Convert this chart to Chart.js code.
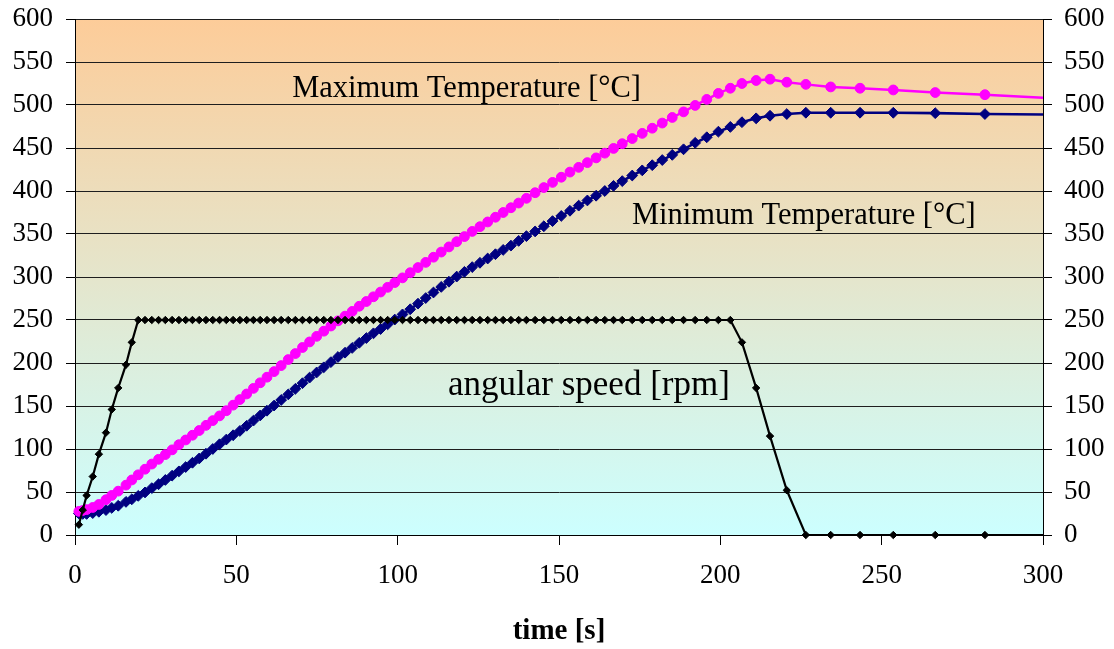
<!DOCTYPE html>
<html>
<head>
<meta charset="utf-8">
<script src="https://cdn.jsdelivr.net/npm/chart.js@4.4.1/dist/chart.umd.min.js"></script>
<style>
  html, body { margin: 0; padding: 0; background: #ffffff; }
  #wrap { width: 1114px; height: 649px; position: relative; }
</style>
</head>
<body>
<div id="wrap"><canvas id="c" width="1114" height="649"></canvas></div>
<script>
// ---------------- DATA ----------------
const timeSeconds = [
  1.2, 2.4, 3.6, 5.5, 7.4, 9.6, 11.4, 13.4, 15.8, 17.6, 19.6,
  21.7, 23.8, 25.9, 28.0, 30.1, 32.2, 34.3, 36.4, 38.5, 40.6, 42.7, 44.8, 46.9, 49.0, 51.1, 53.2, 55.3, 57.4, 59.5,
  61.7, 63.9, 66.1, 68.3, 70.5, 72.7, 74.9, 77.1, 79.3, 81.5, 83.7, 85.9, 88.1, 90.3, 92.5, 94.7, 96.9, 99.1,
  101.5, 103.9, 106.3, 108.7, 111.1, 113.5, 115.9, 118.3, 120.7, 123.1, 125.5, 127.9, 130.3, 132.7, 135.1, 137.5, 139.9,
  142.6, 145.3, 148.0, 150.7, 153.4, 156.1, 158.8, 161.5, 164.2, 166.9, 169.6,
  172.7, 175.8, 178.9, 182.0, 185.1, 188.6, 192.2, 195.8, 199.4, 203.1,
  206.7, 211.1, 215.4, 220.6, 226.5, 234.2, 243.3, 253.6, 266.6, 282.0, 300.0
];

const maxTemperature = [
  27.5, 28.5, 29.5, 32, 35.5, 41, 46, 51, 58, 64, 70,
  76.5, 82.5, 88, 93.5, 99, 105, 110.5, 116, 121.5, 127.5, 133, 138.5, 144.5, 151, 157.5, 164, 170.5, 177, 183.5,
  190, 197, 204, 211, 218, 224.5, 231, 237, 243, 249, 254.5, 260, 266, 271.5, 277, 282.5, 288, 293.5,
  299, 305, 311, 317, 323, 329, 335, 341, 347, 353, 358.5, 364, 369.5, 375, 380.5, 386, 391.5,
  398, 404, 410, 416, 422, 427.5, 433, 438.5, 444, 449.5, 455,
  461, 467, 473, 479, 485.5, 492, 499.5, 506.5, 513.5, 519.5,
  525, 528.5, 530, 526.5, 524, 521, 519.5, 517.5, 514.5, 512, 508.5
];

const minTemperature = [
  25, 24.5, 24.5, 25.5, 27, 29, 31.5, 34, 38.5, 41.5, 45.5,
  49.5, 54.5, 59, 64, 69, 74, 79, 84, 89, 94.5, 100, 105.5, 111, 116, 121, 127, 133, 139, 144.5,
  150.5, 157, 163.5, 170, 176.5, 183, 189, 195, 201, 207, 212, 217.5, 223.5, 229, 234.5, 239.5, 245, 250.5,
  256.5, 262.5, 269, 275.5, 282, 288.5, 294.5, 300.5, 306, 311.5, 316.5, 321.5, 326.5, 331.5, 336.5, 342, 347.5,
  353, 359, 365, 371, 377, 383, 389, 394.5, 400, 406, 411.5,
  418, 424, 430, 436, 442, 448.5, 456, 462.5, 469, 474.5,
  480, 484.5, 487.5, 489.5, 491, 491, 491, 491, 490.5, 489.5, 489
];

const angularSpeed = [
  12, 29, 46, 68, 94, 119, 146, 171, 198, 224, 250,
  250, 250, 250, 250, 250, 250, 250, 250, 250, 250, 250, 250, 250, 250, 250, 250, 250, 250, 250,
  250, 250, 250, 250, 250, 250, 250, 250, 250, 250, 250, 250, 250, 250, 250, 250, 250, 250,
  250, 250, 250, 250, 250, 250, 250, 250, 250, 250, 250, 250, 250, 250, 250, 250, 250,
  250, 250, 250, 250, 250, 250, 250, 250, 250, 250, 250,
  250, 250, 250, 250, 250, 250, 250, 250, 250, 250,
  224, 171, 115, 52, 0, 0, 0, 0, 0, 0, 0
];

const seriesLabels = ['angular speed [rpm]', 'Maximum Temperature [°C]', 'Minimum Temperature [°C]'];
const xTickValues = [0, 50, 100, 150, 200, 250, 300];
const yTickValues = [0, 50, 100, 150, 200, 250, 300, 350, 400, 450, 500, 550, 600];
const xTitle = 'time [s]';

// text annotations anchored in data coordinates (time, value at text baseline)
const annotationText = [seriesLabels[1], seriesLabels[2], seriesLabels[0]];
const annotationTime = [67.3, 172.6, 115.6];
const annotationValue = [509, 362, 162.5];
const annotationSize = [30.5, 30.5, 35];

// ---------------- CHART ----------------
const FONT = '"Liberation Serif", "Times New Roman", serif';
const toPoints = (ys) => timeSeconds.map((t, i) => ({ x: t, y: ys[i] }));
const lastIdx = timeSeconds.length - 1;
const radiusFn = (r) => (ctx) => (ctx.dataIndex === lastIdx ? 0 : r);

const bgPlugin = {
  id: 'bg',
  beforeDraw(chart) {
    const { ctx, chartArea: a } = chart;
    ctx.save();
    ctx.fillStyle = '#ffffff';
    ctx.fillRect(0, 0, chart.width, chart.height);
    const g = ctx.createLinearGradient(0, a.top, 0, a.bottom);
    g.addColorStop(0, '#FDCC99');
    g.addColorStop(1, '#CCFFFF');
    ctx.fillStyle = g;
    ctx.fillRect(a.left, a.top, a.right - a.left, a.bottom - a.top);
    ctx.restore();
  }
};

const textPlugin = {
  id: 'seriesText',
  beforeDatasetsDraw(chart) {
    const { ctx, scales } = chart;
    ctx.save();
    ctx.fillStyle = '#000000';
    ctx.textAlign = 'left';
    ctx.textBaseline = 'alphabetic';
    annotationText.forEach((txt, i) => {
      ctx.font = annotationSize[i] + 'px ' + FONT;
      ctx.fillText(txt, scales.x.getPixelForValue(annotationTime[i]), scales.y.getPixelForValue(annotationValue[i]));
    });
    ctx.restore();
  }
};

const tickFont = { family: FONT, size: 27 };
const noPad = (s) => { s.paddingTop = 0; s.paddingBottom = 0; s.paddingLeft = 0; s.paddingRight = 0; };

new Chart(document.getElementById('c'), {
  type: 'line',
  data: {
    datasets: [
      {
        label: seriesLabels[0],
        data: toPoints(angularSpeed),
        borderColor: '#000000',
        backgroundColor: '#000000',
        borderWidth: 2.2,
        pointStyle: 'rectRot',
        pointRadius: radiusFn(3.7),
        pointBorderWidth: 1,
        pointBorderColor: '#000000',
        pointBackgroundColor: '#000000',
        tension: 0,
        clip: false,
        yAxisID: 'y'
      },
      {
        label: seriesLabels[1],
        data: toPoints(maxTemperature),
        borderColor: '#FF00FF',
        backgroundColor: '#FF00FF',
        borderWidth: 2.4,
        pointStyle: 'circle',
        pointRadius: radiusFn(4.9),
        pointBorderWidth: 1,
        pointBorderColor: '#FF00FF',
        pointBackgroundColor: '#FF00FF',
        tension: 0,
        clip: false,
        yAxisID: 'y'
      },
      {
        label: seriesLabels[2],
        data: toPoints(minTemperature),
        borderColor: '#000080',
        backgroundColor: '#000080',
        borderWidth: 2.6,
        pointStyle: 'rectRot',
        pointRadius: radiusFn(5.4),
        pointBorderWidth: 1,
        pointBorderColor: '#000080',
        pointBackgroundColor: '#000080',
        tension: 0,
        clip: false,
        yAxisID: 'y'
      }
    ]
  },
  options: {
    responsive: false,
    animation: false,
    devicePixelRatio: 1,
    layout: { padding: { top: 19, left: 0, right: 0, bottom: 0 } },
    plugins: {
      legend: { display: false },
      tooltip: { enabled: false },
      title: { display: false }
    },
    scales: {
      x: {
        type: 'linear',
        position: 'bottom',
        min: 0, max: 300,
        afterBuildTicks: (s) => { s.ticks = xTickValues.map(v => ({ value: v })); },
        grid: { drawOnChartArea: false, drawTicks: true, tickLength: 10, color: '#000000', lineWidth: 1 },
        border: { display: true, color: '#000000', width: 1 },
        ticks: { font: tickFont, color: '#000000', padding: 15, maxRotation: 0, autoSkip: false },
        title: { display: true, text: xTitle, font: { family: FONT, size: 29, weight: 'bold' }, color: '#000000', padding: { top: 4, bottom: 0 } },
        afterFit: (s) => { s.height = 114; noPad(s); }
      },
      y: {
        type: 'linear',
        position: 'left',
        min: 0, max: 600,
        afterBuildTicks: (s) => { s.ticks = yTickValues.map(v => ({ value: v })); },
        grid: { drawOnChartArea: true, drawTicks: true, tickLength: 9, color: '#1e1e1e', tickColor: '#000000', lineWidth: 1 },
        border: { display: true, color: '#000000', width: 1 },
        ticks: { font: tickFont, color: '#000000', padding: 13, autoSkip: false },
        afterFit: (s) => { s.width = 75; noPad(s); }
      },
      y2: {
        type: 'linear',
        position: 'right',
        min: 0, max: 600,
        afterBuildTicks: (s) => { s.ticks = yTickValues.map(v => ({ value: v })); },
        grid: { drawOnChartArea: false, drawTicks: true, tickLength: 9, color: '#000000', lineWidth: 1 },
        border: { display: true, color: '#000000', width: 1 },
        ticks: { font: tickFont, color: '#000000', padding: 12, autoSkip: false },
        afterFit: (s) => { s.width = 71; noPad(s); }
      }
    }
  },
  plugins: [bgPlugin, textPlugin]
});
</script>
</body>
</html>
